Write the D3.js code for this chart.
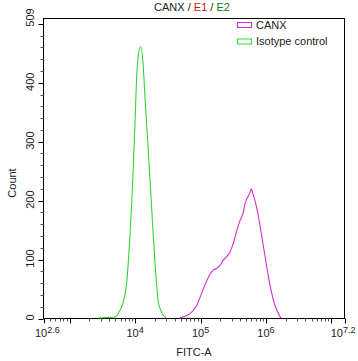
<!DOCTYPE html>
<html>
<head>
<meta charset="utf-8">
<script src="https://cdn.jsdelivr.net/npm/d3@7"></script>
<style>
  html, body { margin: 0; padding: 0; background: #fff; }
  svg { display: block; }
  text { font-family: "Liberation Sans", Arial, sans-serif; }
</style>
</head>
<body>
<svg id="chart" width="358" height="361"></svg>
<script>
// ---- data (x as log10 of FITC-A intensity, y as event count) ----
const canxLog   = [4.656, 4.686, 4.789, 4.865, 4.941, 5.000, 5.068, 5.145, 5.195, 5.247, 5.298, 5.348, 5.400, 5.450, 5.501, 5.553, 5.603, 5.654, 5.680, 5.730, 5.756, 5.776, 5.802, 5.832, 5.883, 5.935, 5.985, 6.036, 6.088, 6.138, 6.189, 6.215, 6.245];
const canxCount = [0, 1, 5, 11, 22, 38, 57, 75, 82, 85, 90, 99, 105, 113, 128, 149, 166, 180, 195, 208, 214, 220, 211, 200, 174, 140, 106, 72, 43, 22, 9, 3, 0];

const isoLog    = [3.433, 3.464, 3.642, 3.719, 3.743, 3.784, 3.820, 3.846, 3.872, 3.896, 3.922, 3.948, 3.968, 3.998, 4.024, 4.049, 4.086, 4.125, 4.151, 4.193, 4.228, 4.254, 4.278, 4.304, 4.330, 4.355, 4.407, 4.483];
const isoCount  = [0, 1, 2, 4, 9, 17, 28, 42, 62, 96, 141, 196, 245, 331, 410, 447, 461, 427, 375, 300, 235, 185, 140, 95, 55, 28, 10, 0];

const seriesNames = ["CANX", "Isotype control"];
const xTickExps   = [2.6, 4, 5, 6, 7.2];
const yTickValues = [0, 100, 200, 300, 400];
const yMaxLabel   = 509;
const titleParts  = ["CANX / ", "E1", " / ", "E2"];

// ---- layout ----
const svg = d3.select("#chart");
const L = 43.5, R = 344.5, T = 18.5, B = 318.5;
const colors = { "CANX": "#d02fd0", "Isotype control": "#33d433" };

const x = d3.scaleLog().domain([Math.pow(10, 2.6), Math.pow(10, 7.2)]).range([L, R]);
const y = d3.scaleLinear().domain([0, yMaxLabel]).range([B, T]);

// frame
svg.append("rect").attr("x", L).attr("y", T).attr("width", R - L).attr("height", B - T)
  .attr("fill", "none").attr("stroke", "#000").attr("stroke-width", 1);

// y ticks
const yMinor = d3.range(0, yMaxLabel, 20).filter(v => v % 100 !== 0);
const yMajor = d3.range(0, yMaxLabel, 100);
svg.append("g").selectAll("line").data(yMinor).join("line")
  .attr("x1", L - 3).attr("x2", L).attr("y1", d => Math.round(y(d)) + 0.5).attr("y2", d => Math.round(y(d)) + 0.5)
  .attr("stroke", "#555");
svg.append("g").selectAll("line").data(yMajor).join("line")
  .attr("x1", L - 5).attr("x2", L).attr("y1", d => Math.round(y(d)) + 0.5).attr("y2", d => Math.round(y(d)) + 0.5)
  .attr("stroke", "#000");
svg.append("g").selectAll("text").data(yTickValues.concat([yMaxLabel])).join("text")
  .attr("transform", d => `translate(33.5,${y(d) - 1}) rotate(-90)`)
  .attr("text-anchor", "middle").attr("font-size", 11).attr("fill", "#222")
  .text(d => d);

// x ticks
const xMinor = [], xMajor = [];
for (let dec = 2; dec <= 7; dec++) {
  for (let k = 1; k <= 9; k++) {
    const v = k * Math.pow(10, dec);
    if (v < x.domain()[0] * 0.999 || v > x.domain()[1]) continue;
    (k === 1 ? xMajor : xMinor).push(v);
  }
}
xMajor.push(Math.pow(10, 2.6), Math.pow(10, 7.2));
svg.append("g").selectAll("line").data(xMinor).join("line")
  .attr("x1", d => Math.round(x(d)) + 0.5).attr("x2", d => Math.round(x(d)) + 0.5)
  .attr("y1", B).attr("y2", B + 3).attr("stroke", "#555");
svg.append("g").selectAll("line").data(xMajor).join("line")
  .attr("x1", d => Math.round(x(d)) + 0.5).attr("x2", d => Math.round(x(d)) + 0.5)
  .attr("y1", B).attr("y2", B + 5).attr("stroke", "#000");

const xl = svg.append("g").selectAll("text").data(xTickExps).join("text")
  .attr("y", 337).attr("font-size", 11).attr("fill", "#222")
  .attr("text-anchor", (d, i) => i === 0 ? "start" : (i === xTickExps.length - 1 ? "end" : "middle"))
  .attr("x", (d, i) => {
    const px = x(Math.pow(10, d));
    if (i === 0) return px - 8.5;
    if (i === xTickExps.length - 1) return px + 11;
    return px;
  });
xl.append("tspan").text("10");
xl.append("tspan").attr("dy", -4).attr("font-size", 9).text(d => String(d));

// axis titles
svg.append("text").attr("x", (L + R) / 2).attr("y", 356).attr("text-anchor", "middle")
  .attr("font-size", 11).attr("fill", "#222").text("FITC-A");
svg.append("text").attr("transform", "translate(15.5,183) rotate(-90)").attr("text-anchor", "middle")
  .attr("font-size", 11).attr("fill", "#222").text("Count");

// title
const title = svg.append("text").attr("x", 192).attr("y", 11).attr("text-anchor", "middle")
  .attr("font-size", 11);
const titleColors = ["#222", "#d01010", "#222", "#108010"];
titleParts.forEach((p, i) => title.append("tspan").attr("fill", titleColors[i]).text(p));

// curves
const line = d3.line().x(d => x(Math.pow(10, d[0]))).y(d => y(d[1])).curve(d3.curveMonotoneX);
const clip = svg.append("clipPath").attr("id", "clip").append("rect")
  .attr("x", L).attr("y", T).attr("width", R - L).attr("height", B - T);
const series = [
  { name: "CANX", pts: d3.zip(canxLog, canxCount) },
  { name: "Isotype control", pts: d3.zip(isoLog, isoCount) }
];
svg.append("g").attr("clip-path", "url(#clip)").selectAll("path").data(series).join("path")
  .attr("d", d => line(d.pts)).attr("fill", "none")
  .attr("stroke", d => colors[d.name]).attr("stroke-width", 1.1);

// legend
const lg = svg.append("g").selectAll("g").data(seriesNames).join("g")
  .attr("transform", (d, i) => `translate(237,${22 + i * 16.5})`);
lg.append("rect").attr("x", 0.5).attr("y", 0.5).attr("width", 14).attr("height", 5)
  .attr("fill", "none").attr("stroke", d => colors[d]).attr("stroke-width", 1);
lg.append("text").attr("x", 19).attr("y", 6.5).attr("font-size", 11).attr("fill", "#222").text(d => d);
</script>
</body>
</html>
